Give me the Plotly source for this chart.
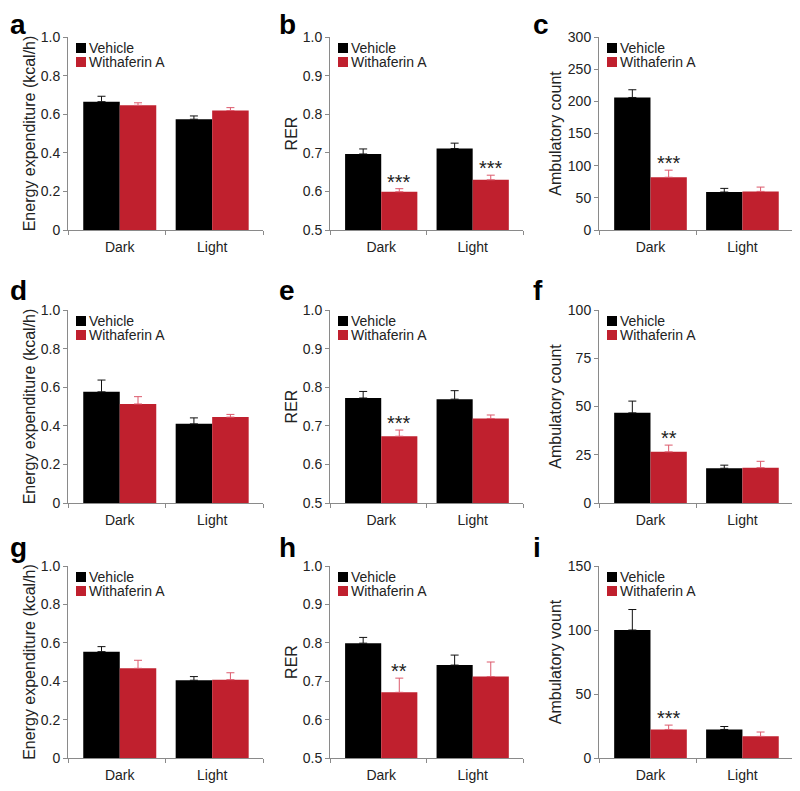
import plotly.graph_objects as go
from plotly.subplots import make_subplots

# ---------------- data ----------------
categories = ["Dark", "Light"]
series_names = ["Vehicle", "Withaferin A"]
series_colors = ["#000000", "#c0202e"]
error_colors = ["#111111", "#dc5a6c"]
panel_letters = ["a", "b", "c", "d", "e", "f", "g", "h", "i"]

y_titles = [
    "Energy expenditure (kcal/h)", "RER", "Ambulatory count",
    "Energy expenditure (kcal/h)", "RER", "Ambulatory count",
    "Energy expenditure (kcal/h)", "RER", "Ambulatory vount",
]

# panel a
a_vehicle = [0.665, 0.574]
a_vehicle_err = [0.028, 0.017]
a_withaferin = [0.646, 0.619]
a_withaferin_err = [0.013, 0.015]
a_stars = ["", ""]
# panel b
b_vehicle = [0.697, 0.711]
b_vehicle_err = [0.013, 0.014]
b_withaferin = [0.599, 0.630]
b_withaferin_err = [0.008, 0.012]
b_stars = ["***", "***"]
# panel c
c_vehicle = [206, 59]
c_vehicle_err = [12, 5.7]
c_withaferin = [82, 60]
c_withaferin_err = [11, 6.7]
c_stars = ["***", ""]
# panel d
d_vehicle = [0.576, 0.410]
d_vehicle_err = [0.061, 0.031]
d_withaferin = [0.513, 0.445]
d_withaferin_err = [0.038, 0.014]
d_stars = ["", ""]
# panel e
e_vehicle = [0.772, 0.769]
e_vehicle_err = [0.017, 0.022]
e_withaferin = [0.673, 0.719]
e_withaferin_err = [0.016, 0.009]
e_stars = ["***", ""]
# panel f
f_vehicle = [46.7, 18.0]
f_vehicle_err = [6.1, 1.6]
f_withaferin = [26.5, 18.3]
f_withaferin_err = [3.5, 3.3]
f_stars = ["**", ""]
# panel g
g_vehicle = [0.554, 0.405]
g_vehicle_err = [0.026, 0.019]
g_withaferin = [0.467, 0.408]
g_withaferin_err = [0.042, 0.036]
g_stars = ["", ""]
# panel h
h_vehicle = [0.799, 0.742]
h_vehicle_err = [0.015, 0.026]
h_withaferin = [0.671, 0.712]
h_withaferin_err = [0.037, 0.038]
h_stars = ["**", ""]
# panel i
i_vehicle = [100, 22.3]
i_vehicle_err = [16, 2.3]
i_withaferin = [22.3, 16.9]
i_withaferin_err = [3.4, 3.4]
i_stars = ["***", ""]

# axis ranges / ticks
ee_ticks = [0, 0.2, 0.4, 0.6, 0.8, 1.0]
ee_ticktext = ["0", "0.2", "0.4", "0.6", "0.8", "1.0"]
rer_ticks = [0.5, 0.6, 0.7, 0.8, 0.9, 1.0]
rer_ticktext = ["0.5", "0.6", "0.7", "0.8", "0.9", "1.0"]
amb1_ticks = [0, 50, 100, 150, 200, 250, 300]
amb2_ticks = [0, 25, 50, 75, 100]
amb3_ticks = [0, 50, 100, 150]

y_ranges = [[0, 1], [0.5, 1], [0, 300],
            [0, 1], [0.5, 1], [0, 100],
            [0, 1], [0.5, 1], [0, 150]]
y_tickvals = [ee_ticks, rer_ticks, amb1_ticks,
              ee_ticks, rer_ticks, amb2_ticks,
              ee_ticks, rer_ticks, amb3_ticks]
y_ticktexts = [ee_ticktext, rer_ticktext, [str(v) for v in amb1_ticks],
               ee_ticktext, rer_ticktext, [str(v) for v in amb2_ticks],
               ee_ticktext, rer_ticktext, [str(v) for v in amb3_ticks]]

panels = [
    (a_vehicle, a_vehicle_err, a_withaferin, a_withaferin_err, a_stars),
    (b_vehicle, b_vehicle_err, b_withaferin, b_withaferin_err, b_stars),
    (c_vehicle, c_vehicle_err, c_withaferin, c_withaferin_err, c_stars),
    (d_vehicle, d_vehicle_err, d_withaferin, d_withaferin_err, d_stars),
    (e_vehicle, e_vehicle_err, e_withaferin, e_withaferin_err, e_stars),
    (f_vehicle, f_vehicle_err, f_withaferin, f_withaferin_err, f_stars),
    (g_vehicle, g_vehicle_err, g_withaferin, g_withaferin_err, g_stars),
    (h_vehicle, h_vehicle_err, h_withaferin, h_withaferin_err, h_stars),
    (i_vehicle, i_vehicle_err, i_withaferin, i_withaferin_err, i_stars),
]

# ---------------- layout geometry (in page pixels) ----------------
W, H = 800, 791
PAGE = 8  # default body margin of the html page
col_px = [(68, 263), (330, 523), (599, 793)]
row_px = [(37, 230), (310, 503), (566, 758)]
title_standoff = [1, 1, 2]
letter_x_px = [8, 277, 531]
letter_y_px = [25, 290, 547]
X_RANGE = [-0.56, 1.55]

FONT = "Liberation Sans, Arial, Helvetica, sans-serif"
AXIS_COLOR = "#8a8a8a"
TEXT_COLOR = "#222222"
BARGAP = 0.21


def fx(px):
    return (px - PAGE) / W


def fy(py):
    return 1 - (py - PAGE) / H


fig = make_subplots(rows=3, cols=3)

annotations = []
shapes = []
xpos = list(range(len(categories)))

for k, (veh, veh_err, wa, wa_err, stars) in enumerate(panels):
    r, c = divmod(k, 3)
    idx = k + 1
    xs = "" if idx == 1 else str(idx)
    vals = [veh, wa]
    errs = [veh_err, wa_err]
    for s in range(2):
        fig.add_trace(
            go.Bar(
                x=xpos, y=vals[s], name=series_names[s],
                marker=dict(color=series_colors[s], line=dict(width=0)),
                error_y=dict(type="data", symmetric=False, array=errs[s],
                             arrayminus=[0] * len(errs[s]),
                             color=error_colors[s], thickness=1, width=4),
                showlegend=False,
            ),
            row=r + 1, col=c + 1,
        )
    x0, x1 = col_px[c]
    y0, y1 = row_px[r]
    fig.layout["xaxis" + xs].update(
        domain=[fx(x0), fx(x1)], range=X_RANGE,
        tickvals=xpos, ticktext=categories,
        showline=True, linecolor=AXIS_COLOR, linewidth=1,
        ticks="outside", ticklen=4, tickcolor="rgba(0,0,0,0)",
        minor=dict(tickmode="array",
                   tickvals=[X_RANGE[0], sum(X_RANGE) / 2, X_RANGE[1]],
                   ticks="outside", ticklen=4, tickcolor=AXIS_COLOR,
                   showgrid=False),
        showgrid=False, zeroline=False, automargin=False,
        tickfont=dict(family=FONT, size=14, color=TEXT_COLOR),
    )
    fig.layout["yaxis" + xs].update(
        domain=[fy(y1), fy(y0)], range=y_ranges[k],
        tickvals=y_tickvals[k], ticktext=y_ticktexts[k],
        showline=True, linecolor=AXIS_COLOR, linewidth=1,
        ticks="outside", ticklen=4, tickcolor=AXIS_COLOR,
        showgrid=False, zeroline=False, automargin=False,
        tickfont=dict(family=FONT, size=14, color=TEXT_COLOR),
        title=dict(text=y_titles[k], standoff=title_standoff[c],
                   font=dict(family=FONT, size=16, color=TEXT_COLOR)),
    )
    # panel letter
    annotations.append(dict(
        text="<b>%s</b>" % panel_letters[k], xref="paper", yref="paper",
        x=fx(letter_x_px[c]), y=fy(letter_y_px[r]),
        xanchor="left", yanchor="middle", showarrow=False,
        font=dict(family=FONT, size=28, color="#000000"),
    ))
    # custom legend
    pw = x1 - x0
    ph = y1 - y0
    for s in range(2):
        top = 6 + 14 * s
        shapes.append(dict(
            type="rect", xref="x%s domain" % xs, yref="y%s domain" % xs,
            x0=8 / pw, x1=18 / pw, y0=1 - (top + 10) / ph, y1=1 - top / ph,
            fillcolor=series_colors[s], line=dict(width=0),
        ))
        annotations.append(dict(
            text=series_names[s], xref="x%s domain" % xs, yref="y%s domain" % xs,
            x=19 / pw, y=1 - (top + 5) / ph, xanchor="left", yanchor="middle",
            showarrow=False, font=dict(family=FONT, size=14, color=TEXT_COLOR),
        ))
    # significance stars above the Withaferin A bars
    bar_w = (1 - BARGAP) / 2
    for j, st in enumerate(stars):
        if st:
            annotations.append(dict(
                text=st, xref="x" + xs, yref="y" + xs,
                x=xpos[j] + bar_w / 2, y=wa[j] + wa_err[j],
                xanchor="center", yanchor="bottom", showarrow=False, yshift=-6,
                font=dict(family=FONT, size=20, color=TEXT_COLOR),
            ))

fig.update_layout(
    width=W, height=H,
    margin=dict(l=0, r=0, t=0, b=0, pad=0, autoexpand=False),
    paper_bgcolor="white", plot_bgcolor="white",
    barmode="group", bargap=BARGAP, bargroupgap=0,
    annotations=annotations, shapes=shapes, showlegend=False,
    font=dict(family=FONT, color=TEXT_COLOR),
)

fig.write_html("out.html")
